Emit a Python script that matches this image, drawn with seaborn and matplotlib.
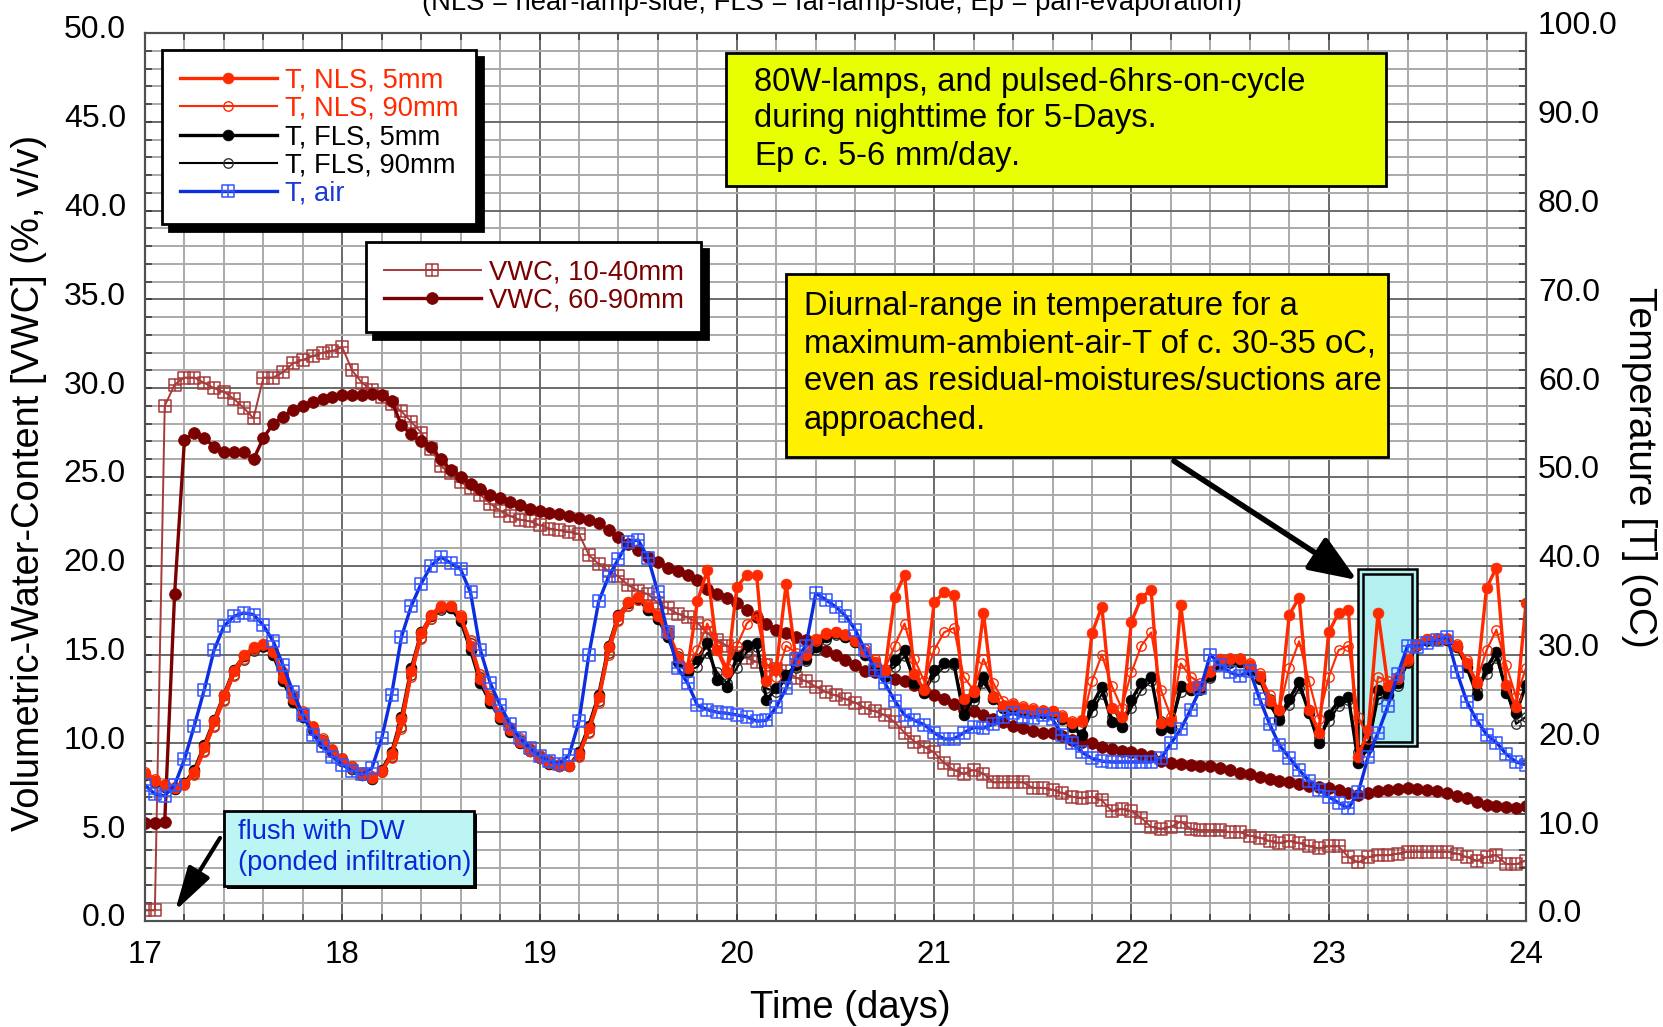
import numpy as np
import matplotlib
matplotlib.use("Agg")
import matplotlib.pyplot as plt
import matplotlib.patches as mpatches
from matplotlib.path import Path
from matplotlib.ticker import FormatStrFormatter, MultipleLocator
from matplotlib.transforms import ScaledTranslation
import seaborn as sns

plt.rcParams['font.family'] = ['Liberation Sans', 'DejaVu Sans']
plt.rcParams['mathtext.fontset'] = 'custom'
plt.rcParams['mathtext.rm'] = 'Liberation Sans'
plt.rcParams['mathtext.it'] = 'Liberation Sans:italic'

# time axis: readings every 0.05 day from day 17 to day 24
time_days = np.round(np.linspace(17, 24, 141), 2)

# temperatures (oC), one row per day
t_air = [
    15.3, 14.3, 14.1, 15.3, 18.2, 22.0, 26.0, 30.5, 33.2, 34.3, 34.7, 34.5, 33.3, 31.5, 28.8, 25.8, 23.2, 21.0, 19.7, 18.5,
    17.6, 16.9, 16.5, 17.2, 20.6, 25.5, 32.0, 35.5, 38.0, 40.0, 41.0, 40.3, 39.6, 37.0, 30.5, 26.8, 24.3, 22.2, 20.6, 19.5,
    18.6, 18.0, 17.7, 18.7, 22.5, 30.0, 36.0, 38.8, 40.8, 42.7, 42.9, 40.9, 37.0, 32.5, 28.5, 26.8, 24.3, 23.8, 23.5, 23.4,
    23.2, 23.0, 22.5, 22.6, 24.1, 26.2, 29.5, 31.0, 36.9, 36.2, 35.4, 34.4, 32.8, 30.5, 28.3, 26.8, 24.8, 23.2, 22.6, 22.1,
    21.2, 20.5, 20.5, 21.2, 21.8, 21.7, 22.2, 23.0, 23.4, 23.0, 22.9, 23.2, 22.7, 21.0, 20.0, 19.0, 18.3, 18.0, 17.9, 17.9,
    17.9, 17.9, 17.9, 18.3, 20.0, 21.6, 23.8, 26.2, 30.0, 28.8, 28.0, 27.6, 28.2, 25.0, 22.2, 19.8, 18.4, 17.0, 15.8, 14.8,
    14.0, 13.3, 12.7, 14.5, 18.5, 21.2, 24.2, 27.8, 31.0, 30.9, 31.3, 31.6, 32.0, 28.0, 24.7, 22.6, 21.0, 20.1, 18.8, 17.9,
    17.6]

t_fls_5 = [
    16.4, 15.6, 15.1, 14.9, 15.5, 17.0, 19.8, 22.6, 25.5, 28.3, 29.8, 30.7, 31.0, 30.0, 27.0, 24.7, 23.0, 21.5, 20.1, 19.0,
    18.0, 17.1, 16.4, 16.0, 17.0, 19.0, 23.0, 28.5, 32.5, 34.3, 35.2, 35.2, 33.8, 30.5, 26.8, 24.6, 22.8, 21.3, 20.1, 19.1,
    18.3, 17.7, 17.4, 17.5, 19.0, 22.0, 25.5, 31.0, 34.5, 35.8, 36.3, 35.0, 34.0, 32.0, 29.2, 28.0, 29.5, 31.3, 27.1, 26.4,
    29.8, 31.1, 31.3, 24.9, 26.2, 27.7, 28.8, 29.5, 30.8, 32.0, 32.4, 32.0, 31.4, 30.0, 28.9, 27.6, 29.4, 30.5, 26.8, 25.7,
    28.3, 29.0, 29.0, 23.2, 25.2, 27.5, 25.0, 24.0, 24.1, 23.8, 23.5, 23.4, 23.4, 22.8, 21.8, 20.9, 24.3, 26.4, 22.4, 21.8,
    24.9, 26.8, 27.5, 21.5, 21.7, 26.5, 26.0, 26.1, 27.6, 29.0, 29.2, 29.2, 28.3, 27.3, 24.5, 22.6, 25.0, 26.9, 23.4, 20.0,
    23.2, 24.8, 25.2, 17.8, 19.6, 26.0, 25.5, 26.8, 29.2, 31.2, 31.6, 31.6, 31.6, 30.9, 28.6, 25.5, 28.5, 30.3, 25.7, 23.4,
    26.6]

t_fls_90 = [
    16.6, 15.8, 15.3, 15.1, 15.4, 16.6, 19.2, 22.0, 24.9, 27.7, 29.4, 30.4, 30.9, 30.3, 27.8, 25.2, 23.4, 21.8, 20.4, 19.3,
    18.3, 17.4, 16.7, 16.2, 16.8, 18.5, 21.8, 27.7, 31.9, 34.0, 35.0, 35.2, 34.2, 31.3, 27.5, 25.1, 23.2, 21.7, 20.4, 19.4,
    18.6, 18.0, 17.6, 17.6, 18.6, 21.3, 24.8, 30.2, 33.9, 35.5, 36.1, 35.3, 34.3, 32.5, 29.8, 28.2, 28.6, 30.2, 28.0, 26.8,
    28.5, 30.3, 30.8, 26.2, 25.8, 27.3, 28.5, 29.3, 30.5, 31.7, 32.2, 32.0, 31.5, 30.3, 29.2, 27.9, 28.6, 29.8, 27.3, 26.0,
    27.5, 28.6, 28.8, 24.2, 24.8, 26.8, 25.3, 24.2, 24.1, 23.9, 23.6, 23.5, 23.4, 22.9, 22.0, 21.1, 23.5, 25.6, 23.0, 22.0,
    24.0, 26.0, 27.0, 22.5, 21.8, 25.8, 26.0, 26.0, 27.4, 28.8, 29.1, 29.2, 28.5, 27.5, 25.0, 23.0, 24.3, 26.2, 23.8, 20.6,
    22.5, 24.2, 24.9, 19.0, 19.5, 25.0, 25.4, 26.5, 29.0, 31.0, 31.5, 31.6, 31.6, 31.0, 28.9, 26.0, 27.8, 29.6, 26.0, 22.2,
    23.0]

t_nls_5 = [
    16.6, 15.8, 15.2, 15.0, 15.4, 16.8, 19.6, 22.5, 25.4, 28.2, 29.9, 30.8, 31.2, 30.3, 27.4, 25.0, 23.2, 21.7, 20.3, 19.1,
    18.1, 17.2, 16.5, 16.1, 16.9, 18.8, 22.7, 28.2, 32.4, 34.5, 35.5, 35.5, 34.2, 31.0, 27.2, 24.9, 23.0, 21.5, 20.2, 19.2,
    18.4, 17.8, 17.5, 17.5, 18.8, 21.7, 25.2, 30.8, 34.4, 35.9, 36.5, 35.4, 34.3, 32.3, 29.6, 28.5, 36.0, 39.5, 30.5, 28.0,
    37.6, 39.0, 39.0, 27.0, 28.5, 38.0, 29.3, 30.0, 31.8, 32.4, 32.6, 32.2, 31.5, 30.3, 29.2, 28.2, 36.5, 39.0, 27.8, 26.0,
    35.9, 37.0, 36.7, 25.0, 25.8, 34.7, 25.2, 24.2, 24.3, 24.0, 23.8, 23.6, 23.6, 23.0, 22.3, 22.6, 32.4, 35.4, 24.0, 23.0,
    33.7, 36.4, 37.3, 22.3, 22.5, 35.6, 26.3, 26.5, 28.2, 29.5, 29.5, 29.5, 28.8, 27.6, 24.8, 23.8, 34.5, 36.4, 23.8, 21.2,
    32.5, 34.7, 35.0, 18.5, 21.5, 34.7, 26.5, 27.5, 29.5, 31.2, 31.8, 31.8, 31.8, 31.0, 29.0, 26.8, 37.5, 39.8, 26.6, 24.1,
    35.8]

t_nls_90 = [
    16.8, 16.0, 15.4, 15.1, 15.3, 16.4, 19.0, 21.9, 24.8, 27.6, 29.5, 30.6, 31.1, 30.5, 28.0, 25.5, 23.6, 22.0, 20.6, 19.4,
    18.4, 17.5, 16.8, 16.3, 16.8, 18.4, 21.6, 27.5, 31.8, 34.0, 35.2, 35.5, 34.5, 31.6, 27.8, 25.3, 23.4, 21.9, 20.6, 19.5,
    18.7, 18.1, 17.7, 17.6, 18.5, 21.2, 24.6, 30.0, 33.8, 35.5, 36.2, 35.6, 34.6, 32.8, 30.2, 28.6, 30.5, 33.5, 30.8, 28.5,
    31.0, 33.5, 34.5, 29.0, 27.5, 31.0, 30.2, 30.3, 31.5, 32.3, 32.6, 32.3, 31.7, 30.6, 29.5, 28.4, 31.0, 33.5, 29.5, 27.0,
    30.5, 32.5, 33.0, 27.5, 26.0, 29.5, 26.8, 24.8, 24.5, 24.2, 24.0, 23.8, 23.7, 23.2, 22.5, 22.4, 27.0, 30.0, 26.5, 24.0,
    28.0, 31.0, 32.5, 26.0, 23.0, 29.0, 27.5, 26.8, 28.0, 29.4, 29.6, 29.6, 29.0, 27.9, 25.5, 23.8, 28.5, 31.5, 27.0, 22.8,
    27.5, 30.5, 31.0, 23.0, 20.5, 27.5, 27.0, 27.3, 29.3, 31.1, 31.8, 31.9, 31.9, 31.2, 29.4, 27.0, 30.5, 32.8, 28.8, 25.2,
    28.5]

# volumetric water content (%, v/v)
vwc_10_40 = [
    0.6, 0.6, 29.0, 30.2, 30.6, 30.6, 30.3, 30.0, 29.8, 29.4, 28.9, 28.3, 30.6, 30.6, 30.9, 31.4, 31.6, 31.8, 32.0, 32.1,
    32.3, 31.0, 30.3, 29.9, 29.5, 29.1, 28.7, 28.1, 27.5, 26.6, 25.6, 25.2, 24.7, 24.4, 24.0, 23.5, 23.1, 22.8, 22.6, 22.5,
    22.3, 22.1, 22.0, 21.9, 21.8, 20.6, 20.1, 19.7, 19.4, 18.9, 18.6, 18.4, 17.9, 17.6, 17.3, 17.1, 16.8, 16.2, 15.8, 15.5,
    15.1, 14.8, 14.6, 14.4, 14.2, 14.1, 13.7, 13.5, 13.2, 12.9, 12.7, 12.5, 12.3, 12.0, 11.8, 11.6, 11.2, 10.6, 10.1, 9.8,
    9.5, 8.9, 8.5, 8.3, 8.5, 8.3, 7.8, 7.8, 7.8, 7.8, 7.5, 7.5, 7.4, 7.2, 7.0, 6.9, 7.0, 6.8, 6.2, 6.3,
    6.2, 5.8, 5.3, 5.2, 5.3, 5.6, 5.2, 5.1, 5.1, 5.1, 5.0, 5.0, 4.8, 4.7, 4.5, 4.4, 4.5, 4.4, 4.2, 4.1,
    4.2, 4.2, 3.6, 3.3, 3.6, 3.7, 3.7, 3.8, 3.9, 3.9, 3.9, 3.9, 3.9, 3.8, 3.6, 3.4, 3.6, 3.7, 3.2, 3.2,
    3.4]

vwc_60_90 = [
    5.5, 5.5, 5.6, 18.4, 27.1, 27.5, 27.2, 26.7, 26.4, 26.4, 26.4, 26.0, 27.2, 28.0, 28.4, 28.8, 29.0, 29.2, 29.4, 29.5,
    29.6, 29.6, 29.6, 29.7, 29.6, 29.3, 27.9, 27.4, 27.0, 26.7, 26.0, 25.4, 25.0, 24.6, 24.3, 24.0, 23.8, 23.6, 23.4, 23.2,
    23.1, 23.0, 22.9, 22.8, 22.7, 22.6, 22.4, 22.0, 21.6, 21.2, 20.9, 20.5, 20.2, 19.9, 19.7, 19.5, 19.2, 18.7, 18.4, 18.2,
    17.9, 17.5, 17.1, 16.7, 16.4, 16.2, 16.0, 15.8, 15.5, 15.2, 15.0, 14.7, 14.4, 14.1, 14.0, 13.8, 13.6, 13.5, 13.3, 13.0,
    12.7, 12.5, 12.2, 11.9, 11.8, 11.6, 11.4, 11.2, 11.0, 10.85, 10.7, 10.6, 10.6, 10.4, 10.2, 10.1, 10.0, 9.8, 9.7, 9.6,
    9.5, 9.4, 9.3, 9.0, 8.9, 8.85, 8.8, 8.75, 8.7, 8.6, 8.5, 8.35, 8.25, 8.1, 8.0, 7.9, 7.8, 7.7, 7.6, 7.55,
    7.5, 7.4, 7.2, 7.1, 7.2, 7.3, 7.4, 7.45, 7.5, 7.45, 7.4, 7.3, 7.2, 7.05, 6.9, 6.7, 6.55, 6.45, 6.4, 6.35,
    6.5]

x_ticks = [17, 18, 19, 20, 21, 22, 23, 24]
vwc_ticks = [0, 5, 10, 15, 20, 25, 30, 35, 40, 45, 50]
temp_ticks = [0, 10, 20, 30, 40, 50, 60, 70, 80, 90, 100]

RED = '#ff2a00'
BLUE = '#0a2ee0'
BLUE_MK = '#3355ff'
VWC_LIGHT = '#a83a3a'
VWC_DARK = '#7b0000'

W, H = 1663, 1027


def fx(px):
    return px / W


def fy(py):
    return 1 - py / H


# open square with a cross inside
sq_cross = Path([(-1, -1), (1, -1), (1, 1), (-1, 1), (-1, -1), (0, -1), (0, 1), (-1, 0), (1, 0)],
                [Path.MOVETO, Path.LINETO, Path.LINETO, Path.LINETO, Path.CLOSEPOLY,
                 Path.MOVETO, Path.LINETO, Path.MOVETO, Path.LINETO])

fig = plt.figure(figsize=(W / 100, H / 100), dpi=100)
ax = fig.add_axes([fx(145), fy(921), (1526 - 145) / W, (921 - 33) / H])
ax2 = ax.twinx()

# VWC on the left axis
sns.lineplot(x=time_days, y=vwc_10_40, ax=ax, color=VWC_LIGHT, lw=1.4, marker=sq_cross, ms=8.8,
             mfc='none', mec=VWC_LIGHT, mew=1.1, errorbar=None, legend=False, label='VWC, 10-40mm')
line_v1 = ax.lines[-1]
sns.lineplot(x=time_days, y=vwc_60_90, ax=ax, color=VWC_DARK, lw=2.4, marker='o', ms=8.5,
             mfc=VWC_DARK, mec=VWC_DARK, mew=0.5, errorbar=None, legend=False, label='VWC, 60-90mm')
line_v2 = ax.lines[-1]

# temperatures on the right axis
sns.lineplot(x=time_days, y=t_fls_90, ax=ax2, color='black', lw=1.5, marker='o', ms=6.8,
             mfc='none', mec='#333333', mew=1.0, errorbar=None, legend=False, label='T, FLS, 90mm', zorder=2.0)
line_f90 = ax2.lines[-1]
sns.lineplot(x=time_days, y=t_fls_5, ax=ax2, color='black', lw=2.4, marker='o', ms=7.8,
             mfc='black', mec='black', mew=0.5, errorbar=None, legend=False, label='T, FLS, 5mm', zorder=2.1)
line_f5 = ax2.lines[-1]
sns.lineplot(x=time_days, y=t_nls_90, ax=ax2, color=RED, lw=1.5, marker='o', ms=6.8,
             mfc='none', mec=RED, mew=1.0, errorbar=None, legend=False, label='T, NLS, 90mm', zorder=2.2)
line_n90 = ax2.lines[-1]
sns.lineplot(x=time_days, y=t_nls_5, ax=ax2, color=RED, lw=2.4, marker='o', ms=7.8,
             mfc=RED, mec=RED, mew=0.5, errorbar=None, legend=False, label='T, NLS, 5mm', zorder=2.3)
line_n5 = ax2.lines[-1]
sns.lineplot(x=time_days, y=t_air, ax=ax2, color=BLUE, lw=2.4, marker=sq_cross, ms=8.8,
             mfc='none', mec=BLUE_MK, mew=1.1, errorbar=None, legend=False, label='T, air', zorder=2.4)
line_air = ax2.lines[-1]

# axes, ticks and grid
ax.set_xlim(17, 24)
ax.set_ylim(0, 50)
ax2.set_ylim(0, 100)
ax.set_xticks(x_ticks)
ax.xaxis.set_minor_locator(MultipleLocator(0.2))
ax.set_yticks(vwc_ticks)
ax.yaxis.set_minor_locator(MultipleLocator(1))
ax2.set_yticks(temp_ticks)
ax2.yaxis.set_minor_locator(MultipleLocator(2))
ax.yaxis.set_major_formatter(FormatStrFormatter('%.1f'))
ax2.yaxis.set_major_formatter(FormatStrFormatter('%.1f'))

ax.grid(True, which='major', color='#6a6a6a', lw=1.4)
ax.grid(True, which='minor', color='#aaaaaa', lw=1.4)
ax.set_axisbelow(True)

ax.tick_params(axis='both', which='both', direction='in', color='#333333', top=True)
ax.tick_params(which='major', length=5, width=1.1)
ax.tick_params(which='minor', length=5, width=1.1)
ax.tick_params(axis='y', labelsize=23, pad=13.7)
ax.tick_params(axis='x', labelsize=22.5, pad=13.7)
ax2.tick_params(axis='y', which='both', direction='in', color='#333333', length=5, width=1.1)
ax2.tick_params(axis='y', labelsize=23, pad=8.6)

for a in (ax, ax2):
    for s in a.spines.values():
        s.set_color('#505050')
        s.set_linewidth(1.5)

# tick labels sit a little above their grid lines in the original
for tick in ax.yaxis.get_major_ticks():
    tick.label1.set_transform(tick.label1.get_transform() + ScaledTranslation(0, 0.06, fig.dpi_scale_trans))
for tick in ax2.yaxis.get_major_ticks():
    tick.label2.set_transform(tick.label2.get_transform() + ScaledTranslation(0, 0.10, fig.dpi_scale_trans))

ax.set_xlabel('Time (days)', fontsize=27.5)
ax.xaxis.set_label_coords(0.5105, -0.0975)
ax.xaxis.label.set_va('center')
ax.set_ylabel('Volumetric-Water-Content [VWC] (%, v/v)', fontsize=27.4)
ax.yaxis.set_label_coords(-0.0843, 0.493)
ax.yaxis.label.set_va('center')
ax2.set_ylabel('Temperature [T] (oC)', fontsize=28, rotation=270)
ax2.yaxis.set_label_coords(1.0818, 0.511)
ax2.yaxis.label.set_va('center')

# legends
leg_kw = dict(loc='upper left', bbox_transform=fig.transFigure, fontsize=19.7, frameon=True,
              fancybox=False, framealpha=1, edgecolor='black', borderpad=0.65, handlelength=3.55,
              handletextpad=0.28, labelspacing=0.08, borderaxespad=0,
              shadow={'ox': 5, 'oy': -5, 'color': 'black', 'alpha': 1})
leg1 = ax2.legend(handles=[line_n5, line_n90, line_f5, line_f90, line_air],
                  labels=['T, NLS, 5mm', 'T, NLS, 90mm', 'T, FLS, 5mm', 'T, FLS, 90mm', 'T, air'],
                  labelcolor=[RED, RED, 'black', 'black', '#1a3ad8'],
                  bbox_to_anchor=(fx(162), fy(50)), **leg_kw)
leg1.get_frame().set_linewidth(2.0)
ax2.add_artist(leg1)
leg2 = ax2.legend(handles=[line_v1, line_v2], labels=['VWC, 10-40mm', 'VWC, 60-90mm'],
                  labelcolor=[VWC_DARK, VWC_DARK], bbox_to_anchor=(fx(366), fy(242)), **leg_kw)
leg2.get_frame().set_linewidth(2.0)

# cyan highlight of one diurnal cycle (under the data)
ax2.add_patch(mpatches.Rectangle((fx(1358), fy(746)), (1417 - 1358) / W, (746 - 569) / H,
                                 transform=fig.transFigure, facecolor='#b4f0f0', edgecolor='black',
                                 lw=1.8, zorder=1.5, clip_on=False))
ax2.add_patch(mpatches.Rectangle((fx(1363), fy(742)), (1412 - 1363) / W, (742 - 574) / H,
                                 transform=fig.transFigure, facecolor='none', edgecolor='black',
                                 lw=1.8, zorder=1.6, clip_on=False))

# yellow note boxes
fig.add_artist(mpatches.Rectangle((fx(726), fy(186)), (1386 - 726) / W, (186 - 53) / H,
                                  transform=fig.transFigure, facecolor='#e8ff00', edgecolor='black',
                                  lw=2.0, zorder=10))
box1_lines = ['80W-lamps, and pulsed-6hrs-on-cycle', 'during nighttime for 5-Days.',
              'Ep $\\it{c}$. 5-6 mm/day.']
for txt, yy in zip(box1_lines, [82, 119, 156]):
    fig.text(fx(754), fy(yy), txt, fontsize=23.6, ha='left', va='center', zorder=11)

fig.add_artist(mpatches.Rectangle((fx(786), fy(457)), (1388 - 786) / W, (457 - 274) / H,
                                  transform=fig.transFigure, facecolor='#fff000', edgecolor='black',
                                  lw=2.0, zorder=10))
box2_lines = ['Diurnal-range in temperature for a', 'maximum-ambient-air-T of c. 30-35 oC,',
              'even as residual-moistures/suctions are', 'approached.']
for txt, yy in zip(box2_lines, [306.5, 344, 382, 420]):
    fig.text(fx(804), fy(yy), txt, fontsize=23.6, ha='left', va='center', zorder=11)

# flush note
fig.add_artist(mpatches.Rectangle((fx(227), fy(889)), (474 - 224) / W, (886 - 811) / H,
                                  transform=fig.transFigure, facecolor='black', edgecolor='black',
                                  lw=0, zorder=9.5))
fig.add_artist(mpatches.Rectangle((fx(224), fy(886)), (474 - 224) / W, (886 - 811) / H,
                                  transform=fig.transFigure, facecolor='#bdf4f4', edgecolor='black',
                                  lw=2.0, zorder=10))
for txt, yy in zip(['flush with DW', '(ponded infiltration)'], [832, 863]):
    fig.text(fx(238), fy(yy), txt, fontsize=19.6, color='#0a28d8', ha='left', va='center', zorder=11)

# arrows
fig.add_artist(mpatches.FancyArrowPatch((fx(1174), fy(461)), (fx(1357), fy(580)),
                                        transform=fig.transFigure,
                                        arrowstyle='-|>,head_length=2.9,head_width=1.15',
                                        mutation_scale=10, lw=4.0, color='black',
                                        shrinkA=0, shrinkB=0, zorder=12))
fig.add_artist(mpatches.FancyArrowPatch((fx(220), fy(838)), (fx(175), fy(911)),
                                        transform=fig.transFigure,
                                        arrowstyle='-|>,head_length=2.7,head_width=0.75',
                                        mutation_scale=10, lw=3.0, color='black',
                                        shrinkA=0, shrinkB=0, zorder=12))

# title, mostly cut off at the top edge (as in the original figure)
fig.text(fx(832), fy(10), '(NLS = near-lamp-side, FLS = far-lamp-side, Ep = pan-evaporation)',
         fontsize=19.7, ha='center', va='baseline')

fig.savefig('out.png', dpi=100)
plt.close(fig)
